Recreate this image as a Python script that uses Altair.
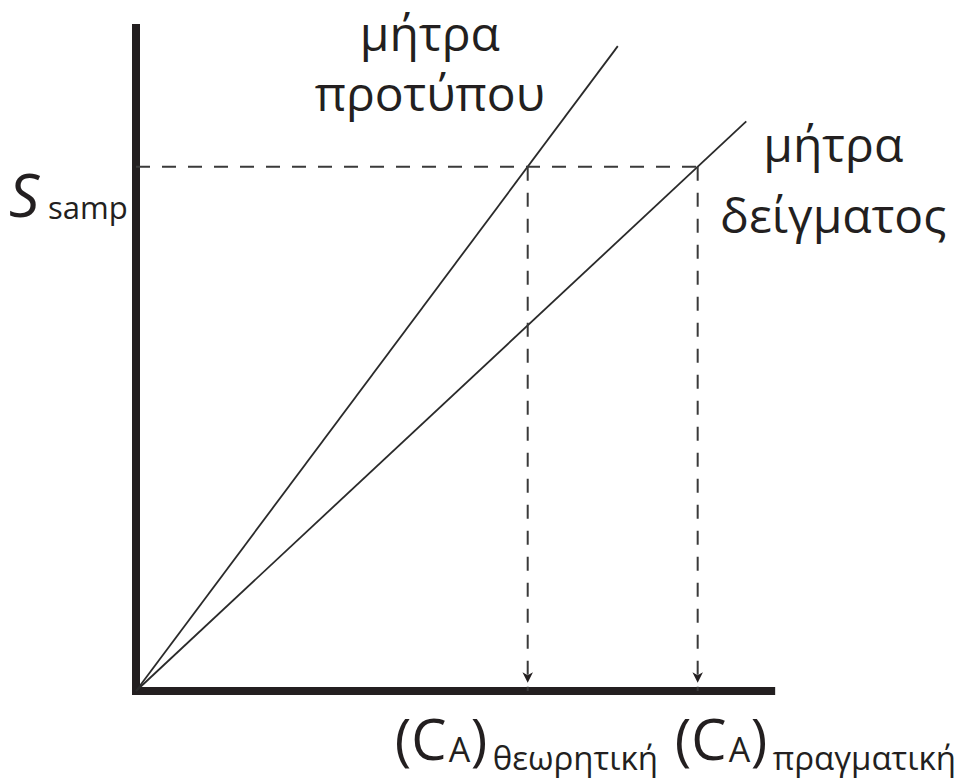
import altair as alt
import pandas as pd

# ---- values -------------------------------------------------------------
S_SAMP = 78.6                 # signal measured for the sample
C_VALUES = [61.3, 87.9]       # C_A read on the standard-matrix and sample-matrix lines
LINE_END_X = [75.4, 95.5]     # where each calibration line is stopped
LINE_LABELS = [["μήτρα", "προτύπου"], ["μήτρα", "δείγματος"]]
C_SUBSCRIPTS = ["θεωρητική", "πραγματική"]
AXIS_LEN = 99.4               # length of both drawn axes (same units as data)

FONT = "Open Sans"
INK = "#231f20"

x_scale = alt.Scale(domain=[0, 100], nice=False, zero=False)
y_scale = alt.Scale(domain=[0, 100], nice=False, zero=False)
X = lambda f: alt.X(f, type="quantitative", scale=x_scale, axis=None)
Y = lambda f: alt.Y(f, type="quantitative", scale=y_scale, axis=None)

# calibration lines through the origin and through (C, S_samp)
lines = pd.DataFrame({
    "x": [0.0, 0.0],
    "y": [0.0, 0.0],
    "x2": LINE_END_X,
    "y2": [S_SAMP / c * xe for c, xe in zip(C_VALUES, LINE_END_X)],
})

axes = pd.DataFrame({"x": [0.0, 0.0], "y": [0.0, 0.0],
                     "x2": [0.0, AXIS_LEN], "y2": [AXIS_LEN, 0.0]})

h_dash = pd.DataFrame({"x": [0.0], "x2": [max(C_VALUES)], "y": [S_SAMP]})
v_dash = pd.DataFrame({"x": C_VALUES, "y": [S_SAMP] * 2, "y2": [0.0, 0.0]})

axis_layer = alt.Chart(axes).mark_rule(
    color=INK, strokeWidth=8, strokeCap="square"
).encode(x=X("x"), y=Y("y"), x2="x2", y2="y2")

line_layer = alt.Chart(lines).mark_rule(
    color="#2a2a2a", strokeWidth=1.8
).encode(x=X("x"), y=Y("y"), x2="x2", y2="y2")

h_layer = alt.Chart(h_dash).mark_rule(
    color="#3a3a3a", strokeWidth=2, strokeDash=[14, 12]
).encode(x=X("x"), x2="x2", y=Y("y"))

v_layer = alt.Chart(v_dash).mark_rule(
    color="#3a3a3a", strokeWidth=2, strokeDash=[14, 12]
).encode(x=X("x"), y=Y("y"), y2="y2")

arrow_layer = alt.Chart(v_dash).mark_point(
    shape="M-1,-1L0,-0.45L1,-1L0,1Z", filled=True, size=110,
    color=INK, opacity=1, yOffset=-13.5
).encode(x=X("x"), y=Y("y2"))

layers = [axis_layer, line_layer, h_layer, v_layer, arrow_layer]


def text_at(df, text, size, dx, dy, align="left", style="normal", line_height=None):
    kw = dict(font=FONT, fontSize=size, color=INK, align=align,
              baseline="alphabetic", dx=dx, dy=dy, fontStyle=style)
    if line_height is not None:
        kw["lineHeight"] = line_height
    return alt.Chart(df).mark_text(**kw).encode(
        x=X("x"), y=Y("y"), text=alt.value(text))


# labels of the two calibration lines, placed from each line's end
end1 = pd.DataFrame({"x": [lines.x2[0]], "y": [lines.y2[0]]})
end2 = pd.DataFrame({"x": [lines.x2[1]], "y": [lines.y2[1]]})
layers.append(text_at(end1, LINE_LABELS[0], 48, -188, 5, align="center", line_height=60))
layers.append(text_at(end2, LINE_LABELS[1], 48, 87, 41, align="center", line_height=71))

# S_samp on the signal axis
s_pt = pd.DataFrame({"x": [0.0], "y": [S_SAMP]})
layers.append(text_at(s_pt, "S", 60, -127, 50, style="italic"))
layers.append(text_at(s_pt, "samp", 31, -88, 52))

# (C_A) labels under the concentration axis
for c, sub, start in zip(C_VALUES, C_SUBSCRIPTS, [-133, -23]):
    pt = pd.DataFrame({"x": [c], "y": [0.0]})
    layers.append(text_at(pt, "(C", 56, start, 69))
    layers.append(text_at(pt, "A", 34, start + 54, 71))
    layers.append(text_at(pt, ")", 56, start + 76, 69))
    layers.append(text_at(pt, sub, 33, start + 98, 79))

chart = alt.layer(*layers).properties(
    width=639, height=667,
    padding={"left": 136, "top": 24, "right": 184, "bottom": 90},
    autosize=alt.AutoSizeParams(type="none"),
    background="white",
).configure_view(stroke=None)

chart.save("out.html", embed_options={"renderer": "svg", "actions": False})
